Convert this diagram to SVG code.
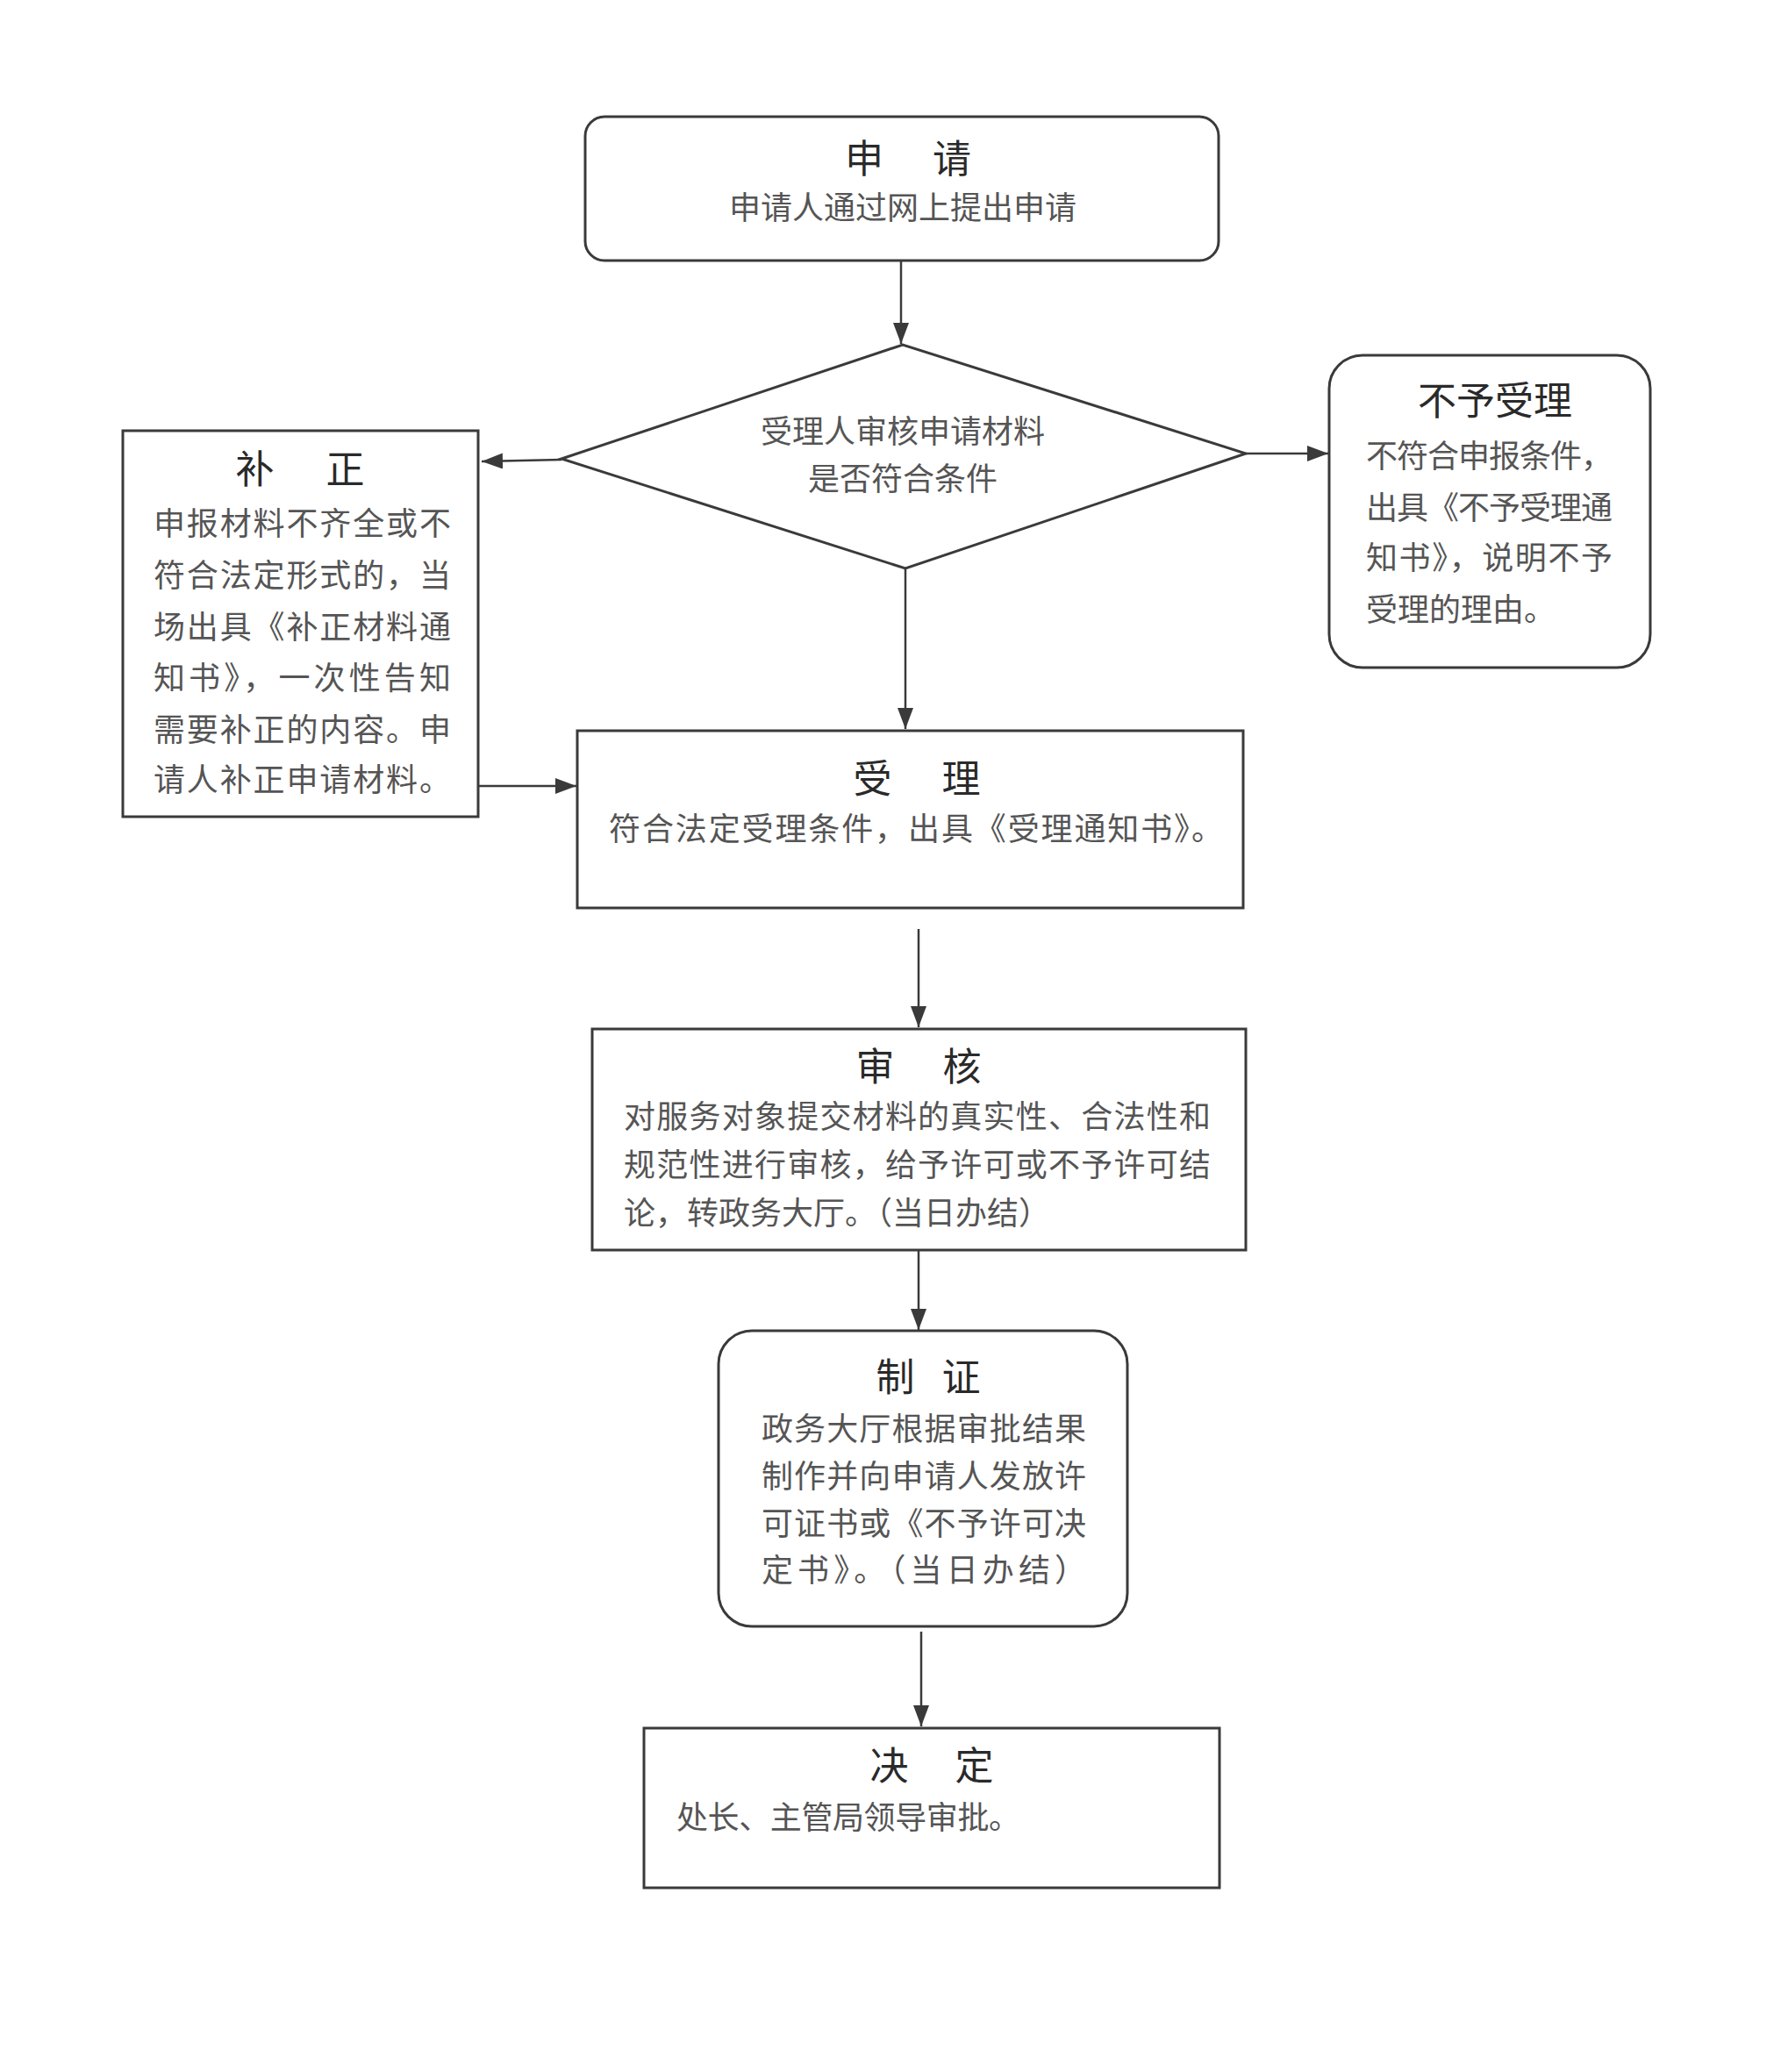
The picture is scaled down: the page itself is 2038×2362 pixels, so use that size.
<svg xmlns="http://www.w3.org/2000/svg" width="2038" height="2362" viewBox="0 0 2038 2362">
<style>
.box{fill:#ffffff;stroke:#3a3a3a;stroke-width:3}
.t{font-family:"Liberation Serif","Noto Sans CJK SC",serif;fill:#2a2a2a;text-anchor:middle;dominant-baseline:central}
.title{font-size:44px;font-weight:normal}
.b{font-family:"Liberation Serif","Noto Sans CJK SC",serif;fill:#555555;font-size:36px;dominant-baseline:central}
.c{text-anchor:middle}
.conn{stroke:#3a3a3a;stroke-width:2.5;fill:none}
</style>
<defs>
<marker id="arr" markerUnits="userSpaceOnUse" markerWidth="24" markerHeight="18" refX="24" refY="9" orient="auto">
<path d="M0,0 L24,9 L0,18 z" fill="#3a3a3a"/>
</marker>
</defs>
<rect width="2038" height="2362" fill="#ffffff"/>

<g id="connectors">
<line class="conn" x1="1027" y1="297" x2="1027" y2="392" marker-end="url(#arr)"/>
<line class="conn" x1="640" y1="524" x2="549" y2="526" marker-end="url(#arr)"/>
<line class="conn" x1="1420" y1="517" x2="1514" y2="517" marker-end="url(#arr)"/>
<line class="conn" x1="1032" y1="648" x2="1032" y2="831" marker-end="url(#arr)"/>
<line class="conn" x1="545" y1="896" x2="657" y2="896" marker-end="url(#arr)"/>
<line class="conn" x1="1047" y1="1059" x2="1047" y2="1171" marker-end="url(#arr)"/>
<line class="conn" x1="1047" y1="1425" x2="1047" y2="1516" marker-end="url(#arr)"/>
<line class="conn" x1="1050" y1="1860" x2="1050" y2="1968" marker-end="url(#arr)"/>
</g>

<g id="node-apply">
<rect class="box" x="667" y="133" width="722" height="164" rx="22"/>
<text class="t title" x="1035" y="182" textLength="144" lengthAdjust="spacing">申　请</text>
<text class="b c" x="1029" y="238">申请人通过网上提出申请</text>
</g>

<g id="node-decision">
<polygon class="box" points="640,523 1029,393 1420,517 1032,648"/>
<text class="b c" x="1029" y="493">受理人审核申请材料</text>
<text class="b c" x="1029" y="547">是否符合条件</text>
</g>

<g id="node-correct">
<rect class="box" x="140" y="491" width="405" height="440"/>
<text class="t title" x="342" y="536" textLength="147" lengthAdjust="spacing">补　正</text>
<text class="b" x="175" y="598" font-size="37" textLength="339" lengthAdjust="spacing">申报材料不齐全或不</text>
<text class="b" x="175" y="657" font-size="37" textLength="339" lengthAdjust="spacing">符合法定形式的，当</text>
<text class="b" x="175" y="716" font-size="37" textLength="339" lengthAdjust="spacing">场出具《补正材料通</text>
<text class="b" x="175" y="774" font-size="37" textLength="339" lengthAdjust="spacing">知书》，一次性告知</text>
<text class="b" x="175" y="833" font-size="37" textLength="339" lengthAdjust="spacing">需要补正的内容。申</text>
<text class="b" x="175" y="890" font-size="37" textLength="339" lengthAdjust="spacing">请人补正申请材料。</text>
</g>

<g id="node-reject">
<rect class="box" x="1515" y="405" width="366" height="356" rx="38"/>
<text class="t title" x="1704" y="458" font-size="47">不予受理</text>
<text class="b" x="1557" y="521" font-size="35" textLength="281" lengthAdjust="spacing">不符合申报条件，</text>
<text class="b" x="1557" y="580" font-size="35" textLength="281" lengthAdjust="spacing">出具《不予受理通</text>
<text class="b" x="1557" y="637" font-size="35" textLength="281" lengthAdjust="spacing">知书》，说明不予</text>
<text class="b" x="1557" y="696" font-size="35">受理的理由。</text>
</g>

<g id="node-accept">
<rect class="box" x="658" y="833" width="759" height="202"/>
<text class="t title" x="1045" y="889" textLength="145" lengthAdjust="spacing">受　理</text>
<text class="b" x="694" y="946" textLength="700" lengthAdjust="spacing">符合法定受理条件，出具《受理通知书》。</text>
</g>

<g id="node-review">
<rect class="box" x="675" y="1173" width="745" height="252"/>
<text class="t title" x="1047" y="1217" textLength="143" lengthAdjust="spacing">审　核</text>
<text class="b" x="711" y="1274" font-size="37" textLength="669" lengthAdjust="spacing">对服务对象提交材料的真实性、合法性和</text>
<text class="b" x="711" y="1329" font-size="37" textLength="669" lengthAdjust="spacing">规范性进行审核，给予许可或不予许可结</text>
<text class="b" x="711" y="1384" font-size="37">论，转政务大厅。（当日办结）</text>
</g>

<g id="node-certify">
<rect class="box" x="819" y="1517" width="466" height="337" rx="38"/>
<text class="t title" x="1058" y="1571" textLength="119" lengthAdjust="spacing">制　证</text>
<text class="b" x="868" y="1630" font-size="37" textLength="370" lengthAdjust="spacing">政务大厅根据审批结果</text>
<text class="b" x="868" y="1684" font-size="37" textLength="370" lengthAdjust="spacing">制作并向申请人发放许</text>
<text class="b" x="868" y="1738" font-size="37" textLength="370" lengthAdjust="spacing">可证书或《不予许可决</text>
<text class="b" x="868" y="1791" font-size="37" textLength="370" lengthAdjust="spacing">定书》。（当日办结）</text>
</g>

<g id="node-decide">
<rect class="box" x="734" y="1970" width="656" height="182"/>
<text class="t title" x="1062" y="2014" textLength="141" lengthAdjust="spacing">决　定</text>
<text class="b" x="771" y="2073" textLength="392" lengthAdjust="spacing">处长、主管局领导审批。</text>
</g>
</svg>
